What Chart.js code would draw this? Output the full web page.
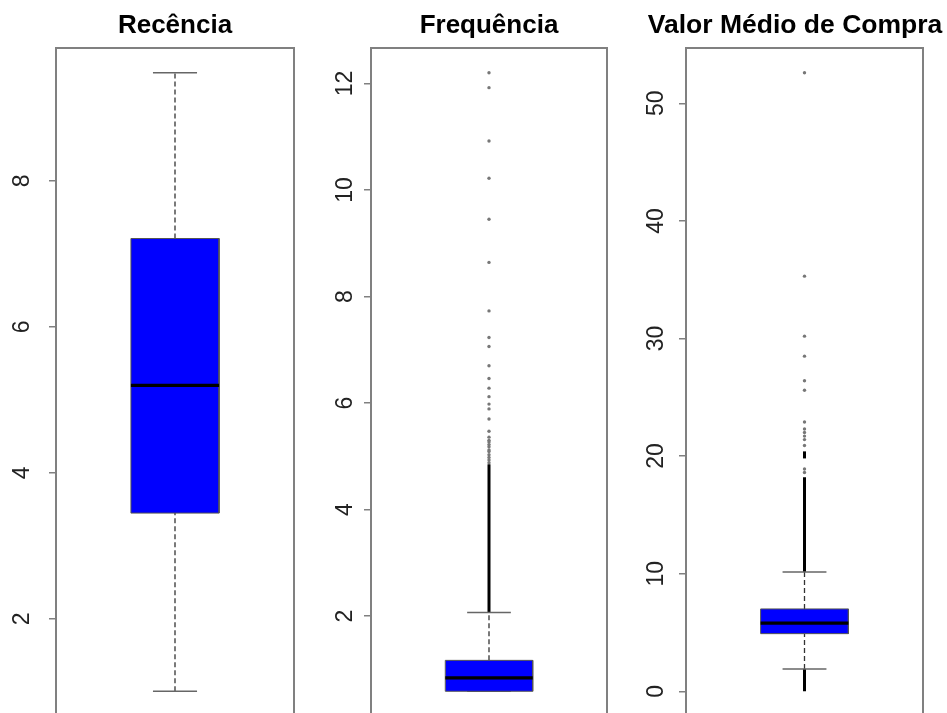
<!DOCTYPE html>
<html>
<head>
<meta charset="utf-8">
<script src="https://cdn.jsdelivr.net/npm/chart.js@4.4.1/dist/chart.umd.min.js"></script>
<style>
  html, body { margin: 0; padding: 0; background: #fff; overflow: hidden; }
  body { width: 947px; height: 713px; position: relative; }
  canvas { position: absolute; top: 0; }
</style>
</head>
<body>
<canvas id="c0"></canvas>
<canvas id="c1"></canvas>
<canvas id="c2"></canvas>
<script>
// BOXPLOT DATA
var titles = ['Recência', 'Frequência', 'Valor Médio de Compra'];
var tickValues = [[2, 4, 6, 8], [2, 4, 6, 8, 10, 12], [0, 10, 20, 30, 40, 50]];
var lowerWhisker = [1.01, 0.59, 1.9];
var q1 = [3.45, 0.59, 4.9];
var median = [5.2, 0.84, 5.8];
var q3 = [7.21, 1.17, 7.0];
var upperWhisker = [9.48, 2.07, 10.15];
var outliers = [
    [],
    [12.2, 11.92, 10.92, 10.22, 9.45, 8.64, 7.73, 7.23, 7.06, 6.70, 6.46, 6.28, 6.12, 5.98,
     5.89, 5.70, 5.47, 5.36, 5.3, 5.27, 5.22, 5.18, 5.12, 5.09, 5.03, 4.98, 4.93, 4.88],
    [52.6, 35.3, 30.2, 28.5, 26.4, 25.6, 22.9, 22.3, 22.0, 21.7, 21.4, 20.9, 18.9, 18.6]
];
// stretches where the outliers are so dense they merge into a solid line
var denseRuns = [
    [],
    [[2.07, 4.85]],
    [[0, 1.9], [10.15, 18.2], [19.8, 20.4]]
];

// layout of the three canvases (pixels)
// rightSpace: empty box on the right so the full-width title sits a bit left of the plot centre
var panels = [
    { left: 0,   width: 300, padLeft: 0,  padRight: 6, axisWidth: 56, tickPad: 20, rightSpace: 0,  titleSize: 26,   titleFull: false },
    { left: 321, width: 290, padLeft: 0,  padRight: 4, axisWidth: 50, tickPad: 6,  rightSpace: 0,  titleSize: 26,   titleFull: false },
    { left: 630, width: 325, padLeft: 10, padRight: 5, axisWidth: 46, tickPad: 10, rightSpace: 27, titleSize: 26.5, titleFull: true }
];
var BOX_HALF = 0.2, CAP_HALF = 0.1;
var FONT = "'Liberation Sans', Arial, sans-serif";

var plotBox = {
    id: 'plotBox',
    afterDraw: function (chart) {
        var a = chart.chartArea, ctx = chart.ctx;
        ctx.save();
        ctx.strokeStyle = '#808080';
        ctx.lineWidth = 2;
        ctx.strokeRect(a.left, a.top, a.right - a.left, a.bottom - a.top);
        ctx.restore();
    }
};

function yLimits(i) {
    var all = [lowerWhisker[i], upperWhisker[i]].concat(outliers[i]);
    denseRuns[i].forEach(function (r) { all.push(r[0], r[1]); });
    var lo = Math.min.apply(null, all), hi = Math.max.apply(null, all);
    var pad = (hi - lo) * 0.04;
    return [lo - pad, hi + pad];
}

function seg(x0, y0, x1, y1) {
    return [{ x: x0, y: y0 }, { x: x1, y: y1 }];
}

function buildDatasets(i) {
    var l = 1 - BOX_HALF, r = 1 + BOX_HALF;
    var sets = [];
    sets.push({ data: seg(l, median[i], r, median[i]), borderColor: '#000', borderWidth: 3.2, order: 0 });
    sets.push({
        data: [{ x: l, y: q1[i] }, { x: l, y: q3[i] }, { x: r, y: q3[i] }, { x: r, y: q1[i] }, { x: l, y: q1[i] }],
        borderColor: '#555', borderWidth: 1, order: 1
    });
    sets.push({ data: seg(l, q3[i], r, q3[i]), borderWidth: 0, fill: { value: q1[i] }, backgroundColor: '#0000ff', order: 2 });
    sets.push({ data: seg(1 - CAP_HALF, upperWhisker[i], 1 + CAP_HALF, upperWhisker[i]), borderColor: '#666', borderWidth: 1.5, order: 3 });
    sets.push({ data: seg(1 - CAP_HALF, lowerWhisker[i], 1 + CAP_HALF, lowerWhisker[i]), borderColor: '#666', borderWidth: 1.5, order: 3 });
    sets.push({ data: seg(1, q3[i], 1, upperWhisker[i]), borderColor: '#333', borderWidth: 1.3, borderDash: [5, 3], order: 4 });
    sets.push({ data: seg(1, lowerWhisker[i], 1, q1[i]), borderColor: '#333', borderWidth: 1.3, borderDash: [5, 3], order: 4 });
    denseRuns[i].forEach(function (run) {
        sets.push({ data: seg(1, run[0], 1, run[1]), borderColor: '#000', borderWidth: 3, order: 5 });
    });
    sets.push({
        data: outliers[i].map(function (v) { return { x: 1, y: v }; }),
        showLine: false, pointRadius: 1.7, pointBackgroundColor: '#777', pointBorderWidth: 0, order: 6
    });
    return sets;
}

function initializeBoxplot(i) {
    var p = panels[i];
    var canvas = document.getElementById('c' + i);
    canvas.width = p.width;
    canvas.height = 720;
    canvas.style.left = p.left + 'px';
    var lim = yLimits(i);
    var lineH = p.titleSize * 1.2;
    var scales = {
        x: { type: 'linear', min: 0.46, max: 1.54, display: false },
        y: {
            type: 'linear',
            min: lim[0],
            max: lim[1],
            afterBuildTicks: function (scale) {
                scale.ticks = tickValues[i].map(function (v) { return { value: v }; });
            },
            afterFit: function (scale) {
                scale.width = p.axisWidth;
                scale.paddingTop = 0;
                scale.paddingBottom = 0;
            },
            border: { display: false },
            grid: { drawOnChartArea: false, drawTicks: true, tickLength: 7, color: '#808080', lineWidth: 1.5 },
            ticks: {
                minRotation: 90,
                maxRotation: 90,
                autoSkip: false,
                crossAlign: 'center',
                padding: p.tickPad,
                color: '#222',
                font: { family: FONT, size: 23 }
            }
        }
    };
    if (p.rightSpace) {
        scales.spacer = {
            type: 'linear',
            position: 'right',
            border: { display: false },
            grid: { display: false },
            ticks: { display: false },
            afterFit: function (scale) {
                scale.width = p.rightSpace;
                scale.paddingTop = 0;
                scale.paddingBottom = 0;
            }
        };
    }
    new Chart(canvas.getContext('2d'), {
        type: 'line',
        data: { datasets: buildDatasets(i) },
        options: {
            responsive: false,
            animation: false,
            events: [],
            elements: { point: { radius: 0 }, line: { tension: 0 } },
            layout: { padding: { left: p.padLeft, right: p.padRight, top: 0, bottom: 4 } },
            plugins: {
                legend: { display: false },
                tooltip: { enabled: false },
                title: {
                    display: true,
                    text: titles[i],
                    fullSize: p.titleFull,
                    color: '#000',
                    font: { family: FONT, size: p.titleSize, weight: 'bold' },
                    padding: { top: 25.6 - lineH / 2, bottom: 48 - (25.6 + lineH / 2) }
                }
            },
            scales: scales
        },
        plugins: [plotBox]
    });
}

for (var i = 0; i < 3; i++) {
    initializeBoxplot(i);
}
</script>
</body>
</html>
